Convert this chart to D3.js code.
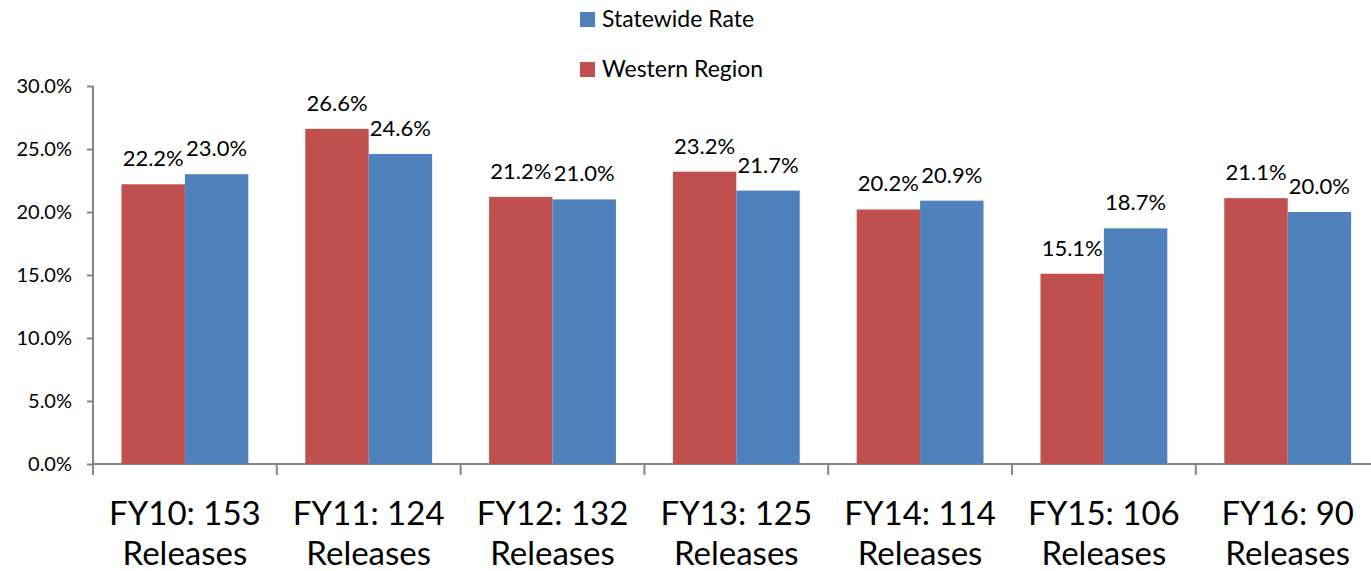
<!DOCTYPE html>
<meta charset="utf-8">
<style>
body { margin: 0; background: #fff; }
text { font-family: Lato, "Open Sans", sans-serif; fill: #000; }
.axis path, .axis line { stroke: #868686; stroke-width: 2; }
</style>
<svg width="1371" height="571"></svg>
<script src="https://cdn.jsdelivr.net/npm/d3@7"></script>
<script>

var years = ["FY10: 153", "FY11: 124", "FY12: 132", "FY13: 125", "FY14: 114", "FY15: 106", "FY16: 90"];
var western = [22.2, 26.6, 21.2, 23.2, 20.2, 15.1, 21.1];
var statewide = [23.0, 24.6, 21.0, 21.7, 20.9, 18.7, 20.0];
var yTicks = [0, 5, 10, 15, 20, 25, 30];

var svg = d3.select("svg");
var plotLeft = 93, plotTop = 86, plotBottom = 464, catW = 183.8;

var x = d3.scaleBand()
    .domain(years)
    .range([plotLeft, plotLeft + catW * years.length])
    .paddingInner(0.31).paddingOuter(0.155);

var inner = d3.scaleBand()
    .domain(["western", "statewide"])
    .range([0, x.bandwidth()]);

var y = d3.scaleLinear().domain([0, 30]).range([plotBottom, plotTop]);

var colors = { western: "#C0504D", statewide: "#4F81BD" };

// y axis
var yAxis = svg.append("g")
    .attr("class", "axis")
    .attr("transform", "translate(" + plotLeft + ",0)")
    .call(d3.axisLeft(y).tickValues(yTicks).tickSize(6).tickPadding(15)
      .tickFormat(function(d) { return d.toFixed(1) + "%"; }));
yAxis.select(".domain").attr("d", "M0," + plotTop + "V" + plotBottom);
yAxis.selectAll("text").attr("font-size", "20px").attr("fill", "#000")
    .style("font-family", "Lato, sans-serif");

// x axis line and category ticks
svg.append("line")
    .attr("x1", plotLeft).attr("x2", 1371)
    .attr("y1", plotBottom).attr("y2", plotBottom)
    .attr("stroke", "#868686").attr("stroke-width", 2);

var bounds = d3.range(years.length + 1).map(function(i) { return plotLeft + catW * i; });
svg.selectAll(".ctick").data(bounds).enter().append("line")
    .attr("x1", function(d) { return d; }).attr("x2", function(d) { return d; })
    .attr("y1", plotBottom).attr("y2", plotBottom + 11)
    .attr("stroke", "#868686").attr("stroke-width", 2);

// bars
var rows = years.map(function(c, i) {
  return { cat: c, vals: [
    { key: "western", v: western[i] },
    { key: "statewide", v: statewide[i] }
  ]};
});

var groups = svg.selectAll(".grp").data(rows).enter().append("g")
    .attr("transform", function(d) { return "translate(" + x(d.cat) + ",0)"; });

groups.selectAll("rect").data(function(d) { return d.vals; }).enter().append("rect")
    .attr("x", function(d) { return inner(d.key); })
    .attr("width", inner.bandwidth())
    .attr("y", function(d) { return y(d.v); })
    .attr("height", function(d) { return plotBottom - y(d.v); })
    .attr("fill", function(d) { return colors[d.key]; });

groups.selectAll(".lbl").data(function(d) { return d.vals; }).enter().append("text")
    .attr("x", function(d) { return inner(d.key) + inner.bandwidth() / 2; })
    .attr("y", function(d) { return y(d.v) - 18; })
    .attr("text-anchor", "middle")
    .attr("font-size", "22px")
    .text(function(d) { return d.v.toFixed(1) + "%"; });

// category labels
var catLabels = svg.selectAll(".cat").data(years).enter().append("text")
    .attr("text-anchor", "middle")
    .attr("font-size", "33px")
    .attr("transform", function(d) { return "translate(" + (x(d) + x.bandwidth() / 2) + ",0)"; });
catLabels.append("tspan").attr("x", 0).attr("y", 525).text(function(d) { return d; });
catLabels.append("tspan").attr("x", 0).attr("y", 565).text("Releases");

// legend
var legend = [["Statewide Rate", colors.statewide], ["Western Region", colors.western]];
var lg = svg.selectAll(".legend").data(legend).enter().append("g")
    .attr("transform", function(d, i) { return "translate(580," + (12 + i * 50) + ")"; });
lg.append("rect").attr("width", 15).attr("height", 15).attr("fill", function(d) { return d[1]; });
lg.append("text").attr("x", 22).attr("y", 15).attr("font-size", "23px").text(function(d) { return d[0]; });

</script>
